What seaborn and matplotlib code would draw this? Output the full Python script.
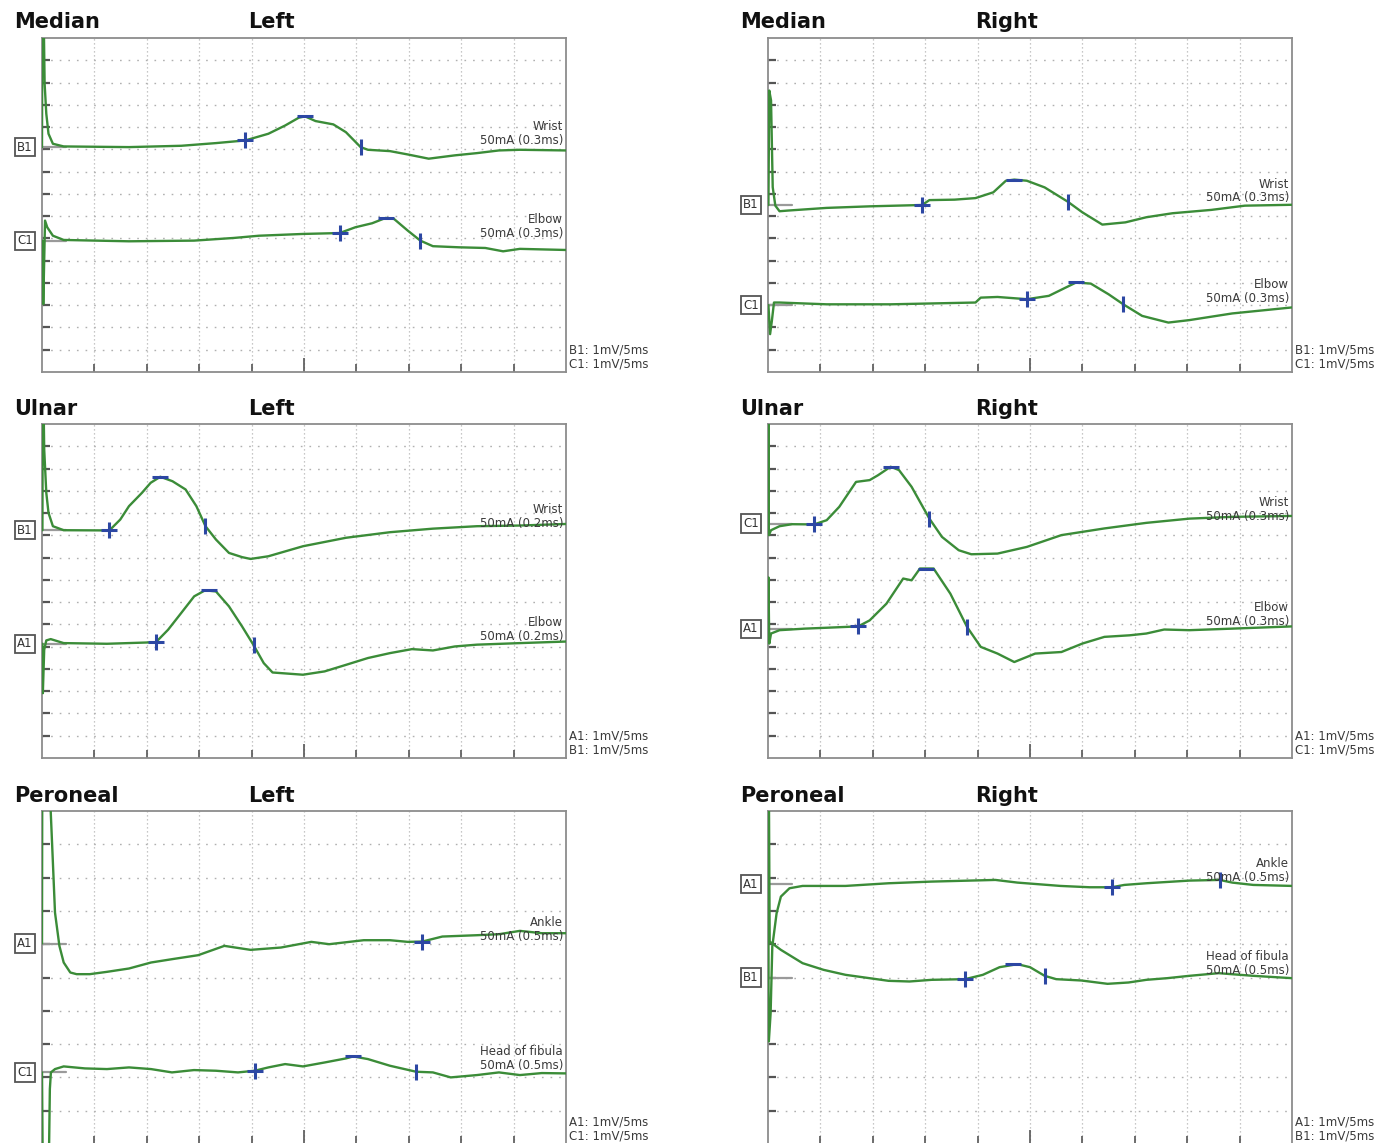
import numpy as np
import pandas as pd
import matplotlib
matplotlib.use('Agg')
import matplotlib.pyplot as plt
import seaborn as sns

sns.set_theme(style='white')
plt.rcParams['font.family'] = ['DejaVu Sans']

# ---- traces: time in ms, amplitude in mV (1 mV = 1 div) relative to channel baseline ----

# Median, left
ml_b1_t = [0, 0.04, 0.1, 0.25, 0.41, 0.62, 1.04, 2.07, 8.3, 13.3, 16.6, 19.4, 21.6, 23.2, 24.5, 25.1, 26.1,
           27.8, 29.0, 30.4, 31.1, 33.2, 34.9, 36.9, 39.4, 41.5, 43.6, 45.6, 50]
ml_b1_v = [0, 8, 8, 2.85, 1.5, 0.6, 0.15, 0.03, 0, 0.06, 0.18, 0.3, 0.6, 0.97, 1.32, 1.38, 1.17,
           1.02, 0.67, 0, -0.12, -0.18, -0.33, -0.52, -0.37, -0.27, -0.15, -0.12, -0.15]
ml_b1_marks = [(19.4, 0.3), (25.1, 1.38), (30.4, 0.0)]

ml_c1_t = [0, 0.04, 0.12, 0.29, 0.5, 1.04, 2.07, 8.3, 14.5, 18.3, 20.7, 24.9, 28.4, 29.9, 31.5, 32.8, 33.6,
           34.9, 36.1, 37.3, 39.8, 42.3, 44.0, 45.6, 50]
ml_c1_v = [0, 0, -2.85, 0.9, 0.6, 0.22, 0.03, -0.03, 0, 0.12, 0.22, 0.3, 0.34, 0.6, 0.78, 1.02, 0.97,
           0.45, 0, -0.25, -0.3, -0.33, -0.48, -0.37, -0.42]
ml_c1_marks = [(28.4, 0.34), (32.8, 1.02), (36.1, 0.0)]

# Median, right
mr_b1_t = [0, 0.04, 0.12, 0.29, 0.45, 0.7, 1.1, 1.9, 5.6, 9.7, 14.7, 15.4, 17.8, 19.8, 21.5, 22.7, 23.5,
           24.7, 26.4, 28.6, 30.0, 31.9, 34.1, 36.1, 38.6, 42.3, 45.5, 50]
mr_b1_v = [0, 0, 5.14, 4.7, 0.8, -0.03, -0.28, -0.25, -0.13, -0.06, 0, 0.22, 0.24, 0.31, 0.57, 1.09, 1.14,
           1.09, 0.79, 0.15, -0.33, -0.88, -0.78, -0.55, -0.37, -0.22, -0.03, 0.01]
mr_b1_marks = [(14.7, 0.0), (23.5, 1.14), (28.6, 0.15)]

mr_c1_t = [0, 0.04, 0.2, 0.37, 0.57, 1.1, 5.6, 11.7, 19.8, 20.3, 21.9, 24.7, 26.8, 28.4, 29.4, 30.8, 32.5,
           33.9, 35.7, 38.2, 40.2, 44.3, 50]
mr_c1_v = [0, 0, -1.3, -0.7, 0.12, 0.12, 0.04, 0.04, 0.12, 0.34, 0.37, 0.27, 0.42, 0.79, 1.02, 0.97, 0.49,
           0.04, -0.48, -0.78, -0.67, -0.37, -0.1]
mr_c1_marks = [(24.7, 0.27), (29.4, 1.02), (33.9, 0.04)]

# Ulnar, left
ul_b1_t = [0, 0.04, 0.08, 0.21, 0.41, 0.62, 1.04, 2.07, 6.43, 7.47, 8.3, 9.54, 10.37, 11.29, 12.45, 13.7,
           14.73, 15.6, 16.6, 17.84, 19.1, 19.9, 21.6, 24.9, 29.0, 33.2, 37.3, 41.5, 45.6, 50]
ul_b1_v = [0, 0, 8, 3.63, 1.68, 0.78, 0.18, 0, -0.01, 0.48, 1.08, 1.68, 2.13, 2.4, 2.2, 1.83,
           1.08, 0.18, -0.42, -1.02, -1.21, -1.29, -1.17, -0.72, -0.34, -0.09, 0.07, 0.18, 0.21, 0.28]
ul_b1_marks = [(6.43, -0.01), (11.29, 2.4), (15.6, 0.18)]

ul_a1_t = [0, 0.04, 0.08, 0.21, 0.41, 0.83, 2.07, 6.2, 10.87, 12.03, 13.28, 14.52, 15.56, 16.6, 17.84,
           19.09, 20.2, 21.16, 22.0, 24.9, 26.97, 29.05, 31.1, 33.2, 35.3, 37.3, 39.4, 41.5, 45.6, 50]
ul_a1_v = [0, 0, -2.22, -0.27, 0.15, 0.21, 0.03, 0, 0.07, 0.63, 1.38, 2.13, 2.4, 2.35, 1.68,
           0.78, -0.07, -0.87, -1.29, -1.39, -1.24, -0.94, -0.64, -0.42, -0.24, -0.3, -0.12, -0.04, 0.03, 0.1]
ul_a1_marks = [(10.87, 0.07), (15.9, 2.4), (20.2, -0.07)]

# Ulnar, right
ur_c1_t = [0, 0.04, 0.08, 0.29, 1.1, 2.3, 4.4, 5.6, 6.8, 8.4, 9.7, 10.5, 11.7, 12.5, 13.7, 15.4, 16.6,
           18.2, 19.4, 21.9, 24.7, 28.0, 32.1, 36.1, 40.2, 44.3, 50]
ur_c1_v = [0, 8, -0.52, -0.3, -0.12, -0.03, -0.04, 0.15, 0.75, 1.87, 1.95, 2.17, 2.55, 2.4, 1.65, 0.22, -0.6,
           -1.2, -1.38, -1.35, -1.05, -0.52, -0.22, 0.03, 0.22, 0.3, 0.34]
ur_c1_marks = [(4.4, -0.04), (11.7, 2.55), (15.4, 0.22)]

ur_a1_t = [0, 0.04, 0.12, 0.29, 1.1, 3.5, 5.6, 8.6, 9.7, 11.3, 12.9, 13.7, 14.5, 15.8, 17.4, 19.0, 20.3,
           21.9, 23.5, 25.5, 28.0, 30.0, 32.1, 34.5, 36.1, 37.8, 40.2, 44.3, 50]
ur_a1_v = [0, 2.3, -0.67, -0.22, -0.07, 0, 0.04, 0.1, 0.37, 1.12, 2.25, 2.17, 2.7, 2.7, 1.57, 0.07, -0.82,
           -1.12, -1.5, -1.12, -1.05, -0.67, -0.37, -0.3, -0.22, -0.04, -0.07, 0, 0.1]
ur_a1_marks = [(8.6, 0.1), (15.1, 2.7), (19.0, 0.07)]

# Peroneal, left
pl_a1_t = [0, 0.04, 0.6, 0.83, 1.04, 1.24, 1.66, 2.07, 2.7, 3.3, 4.56, 6.2, 8.3, 10.4, 12.4, 14.9, 17.4,
           19.9, 22.8, 25.7, 27.4, 30.7, 33.2, 34.9, 36.3, 38.2, 41.5, 43.6, 45.6, 47.7, 50]
pl_a1_v = [0, 8, 6, 3.98, 2.43, 0.93, -0.07, -0.57, -0.87, -0.92, -0.92, -0.85, -0.75, -0.57, -0.47, -0.35,
           -0.07, -0.19, -0.12, 0.05, -0.02, 0.1, 0.1, 0.05, 0.06, 0.21, 0.25, 0.28, 0.38, 0.31, 0.31]
pl_a1_marks = [(36.3, 0.06)]

pl_c1_t = [0, 0.1, 0.6, 0.75, 0.85, 1.24, 2.07, 4.1, 6.2, 8.3, 10.4, 12.4, 14.5, 16.6, 18.7, 20.3, 21.6,
           23.2, 24.9, 27.0, 29.0, 29.7, 31.1, 33.2, 35.7, 37.3, 39.0, 41.5, 43.6, 45.6, 47.7, 50]
pl_c1_v = [0, -4, -4, -0.5, 0, 0.1, 0.18, 0.12, 0.1, 0.15, 0.1, 0, 0.07, 0.05, 0, 0.05, 0.15,
           0.25, 0.18, 0.3, 0.42, 0.48, 0.4, 0.2, 0.02, 0, -0.15, -0.08, 0, -0.08, -0.02, -0.03]
pl_c1_marks = [(20.3, 0.05), (29.7, 0.48), (35.7, 0.02)]

# Peroneal, right
pr_a1_t = [0, 0.08, 0.25, 0.41, 0.82, 1.23, 2.05, 3.3, 7.4, 11.5, 15.6, 21.7, 23.8, 27.9, 30.7, 32.8, 34.0,
           36.1, 40.2, 43.1, 44.3, 46.3, 50]
pr_a1_v = [0, -4.72, -3.87, -1.87, -0.87, -0.37, -0.12, -0.05, -0.05, 0.03, 0.08, 0.13, 0.05, -0.05, -0.09,
           -0.09, -0.02, 0.03, 0.11, 0.13, 0.05, -0.02, -0.05]
pr_a1_marks = [(32.8, -0.09), None, (43.1, 0.13)]

pr_b1_t = [0, 0.08, 0.16, 1.23, 3.3, 5.3, 7.4, 11.5, 13.5, 15.6, 18.8, 20.5, 22.1, 23.8, 25.0, 26.4, 27.5,
           29.9, 32.4, 34.4, 36.1, 38.1, 40.2, 43.0, 46.3, 50]
pr_b1_v = [0, 6, 1.08, 0.83, 0.43, 0.23, 0.08, -0.1, -0.12, -0.07, -0.05, 0.08, 0.31, 0.4, 0.31, 0.05, -0.05,
           -0.09, -0.19, -0.15, -0.07, -0.02, 0.05, 0.13, 0.05, -0.02]
pr_b1_marks = [(18.8, -0.05), (23.4, 0.4), (26.4, 0.05)]

# ---- panel descriptions ----
nerves = ['Median', 'Ulnar', 'Peroneal']
sides = ['Left', 'Right']
row_divs = [15, 15, 10]

# channel, baseline (divisions from top), site, stimulus, trace t, trace v, markers
panels = {
    (0, 0): [('B1', 4.9, 'Wrist', '50mA (0.3ms)', ml_b1_t, ml_b1_v, ml_b1_marks),
             ('C1', 9.1, 'Elbow', '50mA (0.3ms)', ml_c1_t, ml_c1_v, ml_c1_marks)],
    (0, 1): [('B1', 7.5, 'Wrist', '50mA (0.3ms)', mr_b1_t, mr_b1_v, mr_b1_marks),
             ('C1', 12.0, 'Elbow', '50mA (0.3ms)', mr_c1_t, mr_c1_v, mr_c1_marks)],
    (1, 0): [('B1', 4.77, 'Wrist', '50mA (0.2ms)', ul_b1_t, ul_b1_v, ul_b1_marks),
             ('A1', 9.87, 'Elbow', '50mA (0.2ms)', ul_a1_t, ul_a1_v, ul_a1_marks)],
    (1, 1): [('C1', 4.47, 'Wrist', '50mA (0.3ms)', ur_c1_t, ur_c1_v, ur_c1_marks),
             ('A1', 9.19, 'Elbow', '50mA (0.3ms)', ur_a1_t, ur_a1_v, ur_a1_marks)],
    (2, 0): [('A1', 3.98, 'Ankle', '50mA (0.5ms)', pl_a1_t, pl_a1_v, pl_a1_marks),
             ('C1', 7.85, 'Head of fibula', '50mA (0.5ms)', pl_c1_t, pl_c1_v, pl_c1_marks)],
    (2, 1): [('A1', 2.2, 'Ankle', '50mA (0.5ms)', pr_a1_t, pr_a1_v, pr_a1_marks),
             ('B1', 5.0, 'Head of fibula', '50mA (0.5ms)', pr_b1_t, pr_b1_v, pr_b1_marks)],
}
scale_labels = {
    (0, 0): ['B1: 1mV/5ms', 'C1: 1mV/5ms'], (0, 1): ['B1: 1mV/5ms', 'C1: 1mV/5ms'],
    (1, 0): ['A1: 1mV/5ms', 'B1: 1mV/5ms'], (1, 1): ['A1: 1mV/5ms', 'C1: 1mV/5ms'],
    (2, 0): ['A1: 1mV/5ms', 'C1: 1mV/5ms'], (2, 1): ['A1: 1mV/5ms', 'B1: 1mV/5ms'],
}

GREEN = '#3b8c38'
BLUE = '#2c47a3'
W, H = 1389, 1143
col_x = [42, 768]
axw = 524
row_top = [38, 424, 811]
row_h = [334, 334, 333]
title_y = [22, 409, 796]
side_x = [248, 975]

fig = plt.figure(figsize=(W / 100, H / 100), dpi=100)

for r in range(3):
    nd = row_divs[r]
    for c in range(2):
        ax = fig.add_axes([col_x[c] / W, 1 - (row_top[r] + row_h[r]) / H, axw / W, row_h[r] / H])
        ax.set_xlim(0, 50)
        ax.set_ylim(0, nd)

        # dotted grid
        for xg in range(5, 50, 5):
            ax.axvline(xg, color='#b5b5b5', lw=0.9, ls=(0, (1, 2.2)), zorder=0)
        for yg in range(1, nd):
            ax.axhline(yg, color='#b0b0b0', lw=1.0, ls=(0, (1.2, 5)), zorder=0)

        for sp in ax.spines.values():
            sp.set_color('#8c8c8c')
            sp.set_linewidth(1.3)

        ax.set_xticks(range(5, 50, 5))
        ax.set_yticks(range(1, nd))
        ax.tick_params(axis='x', direction='in', length=5.5, width=1.2, color='#555555',
                       bottom=True, labelbottom=False)
        ax.tick_params(axis='y', direction='in', length=6, width=1.6, color='#555555',
                       left=True, labelleft=False)
        ax.xaxis.get_major_ticks()[4].tick1line.set_markersize(10)

        for ch, top_div, site, stim, t, v, marks in panels[(r, c)]:
            base = nd - top_div
            y = base + np.array(v)
            df = pd.DataFrame({'t': t, 'y': y})
            sns.lineplot(data=df, x='t', y='y', ax=ax, color=GREEN, lw=1.7,
                         sort=False, estimator=None, legend=False, zorder=3)
            for mk, m in zip(['+', '_', '|'], marks):
                if m is None:
                    continue
                ax.plot(m[0], base + m[1], marker=mk, ms=12, mew=2.2, color=BLUE,
                        ls='none', zorder=4)
            ax.axhline(base, xmin=0, xmax=0.045, color='#9a9a9a', lw=1.6, zorder=2)
            ax.annotate(ch, xy=(0, base), xytext=(-17, 0), textcoords='offset pixels',
                        ha='center', va='center', fontsize=8.5, color='#333333',
                        bbox=dict(boxstyle='square,pad=0.22', fc='white', ec='#555555', lw=1.3),
                        annotation_clip=False)
            ax.annotate(stim, xy=(50, base), xytext=(-3, 7), textcoords='offset pixels',
                        ha='right', va='center', fontsize=8.5, color='#3a3a3a', zorder=5)
            ax.annotate(site, xy=(50, base), xytext=(-3, 21), textcoords='offset pixels',
                        ha='right', va='center', fontsize=8.5, color='#3a3a3a', zorder=5)

        lab1, lab2 = scale_labels[(r, c)]
        ax.text(1.005, 0.066, lab1, transform=ax.transAxes, ha='left', va='center',
                fontsize=8.5, color='#3a3a3a')
        ax.text(1.005, 0.024, lab2, transform=ax.transAxes, ha='left', va='center',
                fontsize=8.5, color='#3a3a3a')

        fig.text((col_x[c] - 28) / W, 1 - title_y[r] / H, nerves[r], fontsize=15,
                 fontweight='bold', ha='left', va='center', color='#111111')
        fig.text(side_x[c] / W, 1 - title_y[r] / H, sides[c], fontsize=15,
                 fontweight='bold', ha='left', va='center', color='#111111')

fig.savefig('out.png', dpi=100)
